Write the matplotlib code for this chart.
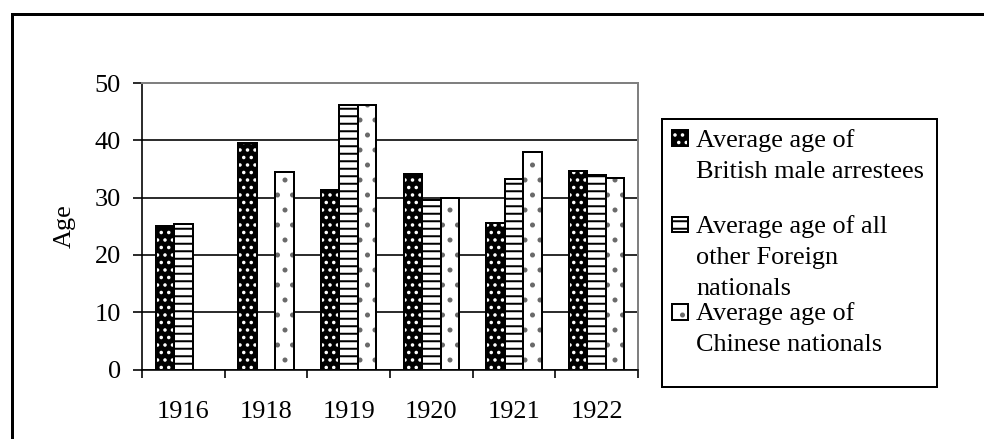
import numpy as np
import matplotlib
matplotlib.use("Agg")
import matplotlib.pyplot as plt
from matplotlib.patches import Rectangle

plt.rcParams['font.family'] = ['Liberation Serif', 'DejaVu Serif']
plt.rcParams['font.size'] = 21
plt.rcParams['hatch.linewidth'] = 1.6

# Data
years = ["1916", "1918", "1919", "1920", "1921", "1922"]
british = [25.0, 39.6, 31.3, 34.2, 25.6, 34.6]
foreign = [25.4, np.nan, 46.1, 29.6, 33.2, 34.0]
chinese = [np.nan, 34.4, 46.1, 30.0, 38.0, 33.5]
series_names = [
    "Average age of\nBritish male arrestees",
    "Average age of all\nother Foreign\nnationals",
    "Average age of\nChinese nationals",
]
y_ticks = [0, 10, 20, 30, 40, 50]

DPI = 90
W, H = 984, 439
fig = plt.figure(figsize=(W / DPI, H / DPI), dpi=DPI)
fig.patch.set_facecolor('white')


def fx(px):
    return px / W


def fy(py):
    return 1 - py / H


# Outer chart border (runs off the right and bottom edges)
fig.add_artist(Rectangle((fx(12), -0.5), 2.0, 0.5 + fy(14), fill=False,
                         edgecolor='black', lw=2.4, transform=fig.transFigure))

ax = fig.add_axes([fx(142), fy(369.5), fx(638) - fx(142), fy(83) - fy(369.5)])

x = np.arange(len(years))
w = 0.222

# Series styles: (values, face, hatch colour, hatch)
styles = [
    (british, 'black', 'white', '..'),
    (foreign, 'white', 'black', '--'),
    (chinese, 'white', '#6a6a6a', '.'),
]
for j, (vals, face, hcol, hatch) in enumerate(styles):
    xs = x + (j - 1) * w
    v = np.array(vals, dtype=float)
    ax.bar(xs, v, w, color=face, edgecolor=hcol, hatch=hatch, lw=0, zorder=2)
    ax.bar(xs, v, w, fill=False, edgecolor='black', lw=1.6, zorder=3)

ax.set_xlim(-0.5, len(years) - 0.5)
ax.set_ylim(0, 50)
ax.set_yticks(y_ticks)
ax.set_yticklabels([str(t) for t in y_ticks])
ax.set_xticks(x)
ax.set_xticklabels(years)
ax.set_xticks(np.arange(len(years) + 1) - 0.5, minor=True)
ax.tick_params(axis='x', which='major', length=0, pad=25)
ax.tick_params(axis='x', which='minor', length=6.5, width=1.3, direction='out')
ax.tick_params(axis='y', which='major', length=7, width=1.3, direction='out', pad=10)

ax.yaxis.grid(True, color='black', lw=1.3)
ax.set_axisbelow(True)
for s in ['left', 'bottom']:
    ax.spines[s].set_color('black')
    ax.spines[s].set_linewidth(1.3)
for s in ['top', 'right']:
    ax.spines[s].set_color('#808080')
    ax.spines[s].set_linewidth(1.6)

ax.set_ylabel("Age", va='center')
ax.yaxis.set_label_coords((65 - 142) / 496, 0.5)

# Legend panel
fig.add_artist(Rectangle((fx(662), fy(387)), fx(937) - fx(662), fy(119) - fy(387),
                         facecolor='white', edgecolor='black', lw=1.6,
                         transform=fig.transFigure, zorder=5))
first_baselines = [146.7, 233.0, 320.0]
line_step = 31.0
for (vals, face, hcol, hatch), name, base in zip(styles, series_names, first_baselines):
    top = base - 16.5
    fig.add_artist(Rectangle((fx(672), fy(top + 16)), fx(688) - fx(672), fy(top) - fy(top + 16),
                             facecolor=face, edgecolor=hcol, hatch=hatch, lw=0,
                             transform=fig.transFigure, zorder=6))
    fig.add_artist(Rectangle((fx(672), fy(top + 16)), fx(688) - fx(672), fy(top) - fy(top + 16),
                             fill=False, edgecolor='black', lw=1.6,
                             transform=fig.transFigure, zorder=7))
    for k, line in enumerate(name.split("\n")):
        fig.text(fx(696), fy(base + k * line_step), line, va='baseline', ha='left',
                 zorder=7)

fig.savefig("out.png", dpi=DPI)
